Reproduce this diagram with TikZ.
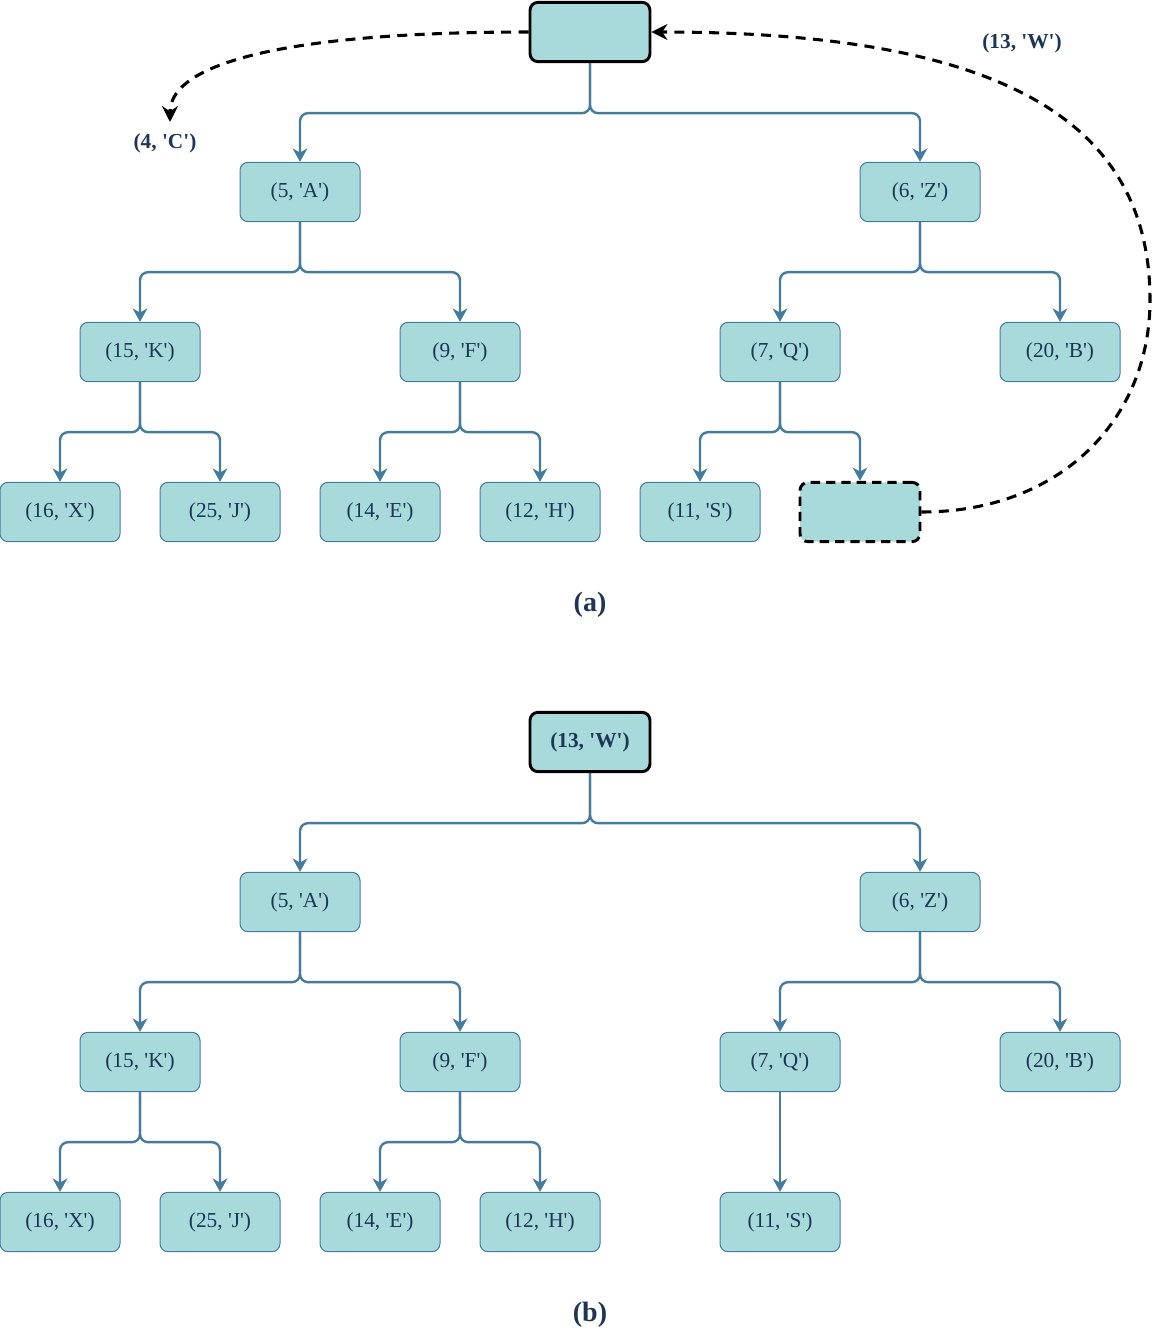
\documentclass[tikz,border=0pt]{standalone}
\usepackage{fontspec}
\setmainfont{Liberation Serif}[Ligatures=TeXOff]
\usetikzlibrary{arrows.meta}
\definecolor{boxfill}{HTML}{A8DADC}
\definecolor{boxline}{HTML}{457B9D}
\definecolor{txt}{HTML}{1D3557}
\tikzset{
  pair/.style={draw=boxline, fill=boxfill, rounded corners=6pt, line width=0.75pt,
    minimum width=90pt, minimum height=44.5pt, text=txt, font=\fontsize{16}{19}\selectfont},
  toproot/.style={pair, draw=black, line width=2.2pt},
  holder/.style={pair, draw=black, line width=2.2pt, dash pattern=on 7pt off 4.5pt},
  tedge/.style={draw=boxline, line width=1.8pt, rounded corners=6pt,
    -{Stealth[length=10pt,width=11pt,inset=3pt]}},
  swap/.style={draw=black, line width=2.3pt, dash pattern=on 7.5pt off 5.5pt,
    -{Stealth[length=12pt,width=12pt,inset=4pt]}},
  lbl/.style={text=txt, font=\fontsize{16}{19}\selectfont\bfseries},
  subcap/.style={text=txt, font=\fontsize{21}{24}\selectfont\bfseries}
}
\begin{document}
\begin{tikzpicture}[x=0.75pt,y=-0.75pt, line join=round]
  \useasboundingbox (0,0) rectangle (1153,1331);
  % (a)
  \node[toproot] (ar) at (590,32) {};
  \node[pair] (aA) at (300,192) {(5, 'A')};
  \node[pair] (aZ) at (920,192) {(6, 'Z')};
  \node[pair] (aK) at (140,352) {(15, 'K')};
  \node[pair] (aF) at (460,352) {(9, 'F')};
  \node[pair] (aQ) at (780,352) {(7, 'Q')};
  \node[pair] (aB) at (1060,352) {(20, 'B')};
  \node[pair] (aX) at (60,512) {(16, 'X')};
  \node[pair] (aJ) at (220,512) {(25, 'J')};
  \node[pair] (aE) at (380,512) {(14, 'E')};
  \node[pair] (aH) at (540,512) {(12, 'H')};
  \node[pair] (aS) at (700,512) {(11, 'S')};
  \node[holder] (ah) at (860,512) {};
  \foreach \p/\c in {ar/aA,ar/aZ,aA/aK,aA/aF,aZ/aQ,aZ/aB,aK/aX,aK/aJ,aF/aE,aF/aH,aQ/aS,aQ/ah}
    \draw[tedge] (\p.south) -- +(0,50) -| (\c.north);
  \coordinate (cout) at (170,122);
  \node[lbl] (lc) at (165,143) {(4, 'C')};
  \node[lbl] (lw) at (1022,43) {(13, 'W')};
  \draw[swap] (ar.west) .. controls (300,32) and (170,60) .. (cout);
  \draw[swap] (ah.east) .. controls (1060,512) and (1150,420) .. (1150,300)
    .. controls (1150,120) and (1000,32) .. (ar.east);
  \node[subcap] (ca) at (590,605) {(a)};
  % (b)
  \node[toproot] (br) at (590,742) {\bfseries (13, 'W')};
  \node[pair] (bA) at (300,902) {(5, 'A')};
  \node[pair] (bZ) at (920,902) {(6, 'Z')};
  \node[pair] (bK) at (140,1062) {(15, 'K')};
  \node[pair] (bF) at (460,1062) {(9, 'F')};
  \node[pair] (bQ) at (780,1062) {(7, 'Q')};
  \node[pair] (bB) at (1060,1062) {(20, 'B')};
  \node[pair] (bX) at (60,1222) {(16, 'X')};
  \node[pair] (bJ) at (220,1222) {(25, 'J')};
  \node[pair] (bE) at (380,1222) {(14, 'E')};
  \node[pair] (bH) at (540,1222) {(12, 'H')};
  \node[pair] (bS) at (780,1222) {(11, 'S')};
  \foreach \p/\c in {br/bA,br/bZ,bA/bK,bA/bF,bZ/bQ,bZ/bB,bK/bX,bK/bJ,bF/bE,bF/bH,bQ/bS}
    \draw[tedge] (\p.south) -- +(0,50) -| (\c.north);
  \node[subcap] (cb) at (590,1315) {(b)};
\end{tikzpicture}
\end{document}
